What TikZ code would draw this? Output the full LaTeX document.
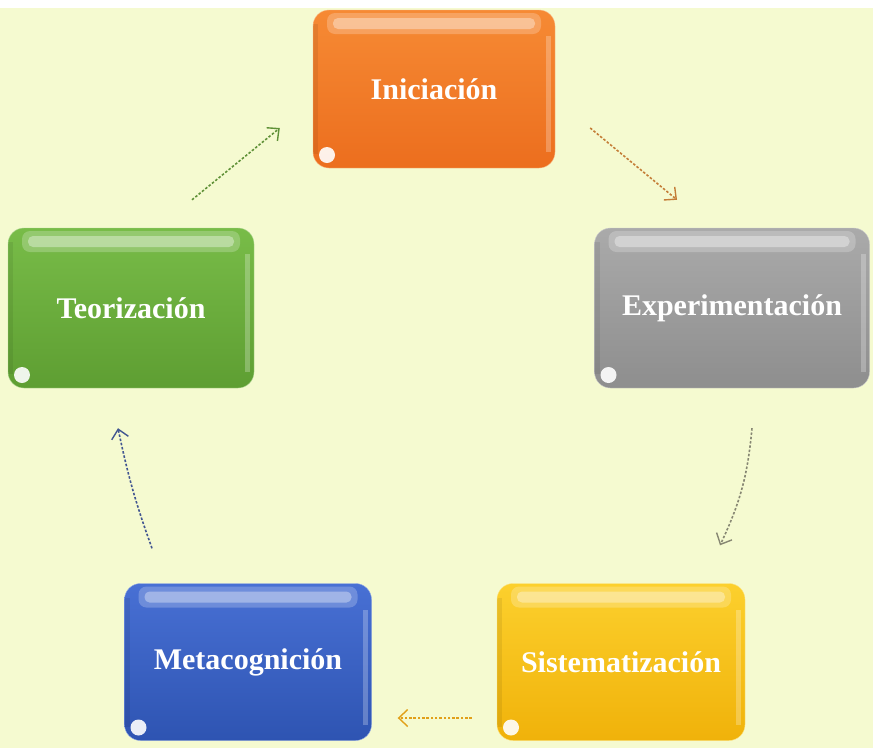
\documentclass[tikz,border=0pt]{standalone}
\usepackage{fontspec}
\setmainfont{Liberation Serif}
\usetikzlibrary{arrows.meta,calc}
\definecolor{bg}{RGB}{245,250,208}
\definecolor{orT}{RGB}{246,138,52}
\definecolor{orB}{RGB}{236,110,30}
\definecolor{grT}{RGB}{170,170,170}
\definecolor{grB}{RGB}{142,142,142}
\definecolor{yeT}{RGB}{252,208,45}
\definecolor{yeB}{RGB}{240,178,10}
\definecolor{blT}{RGB}{72,112,212}
\definecolor{blB}{RGB}{46,84,178}
\definecolor{gnT}{RGB}{120,188,72}
\definecolor{gnB}{RGB}{94,158,50}
\definecolor{aOr}{RGB}{196,125,55}
\definecolor{aGr}{RGB}{135,135,115}
\definecolor{aYe}{RGB}{225,160,25}
\definecolor{aBl}{RGB}{65,85,145}
\definecolor{aGn}{RGB}{95,145,55}
\begin{document}
\begin{tikzpicture}[x=1pt,y=1pt,
  glossy/.style={path picture={
    \coordinate (@nw) at (path picture bounding box.north west);
    \coordinate (@se) at (path picture bounding box.south east);
    \fill[white,opacity=.22,rounded corners=8pt] ($(@nw)+(14pt,-3pt)$) rectangle ($(@se|-@nw)+(-14pt,-24pt)$);
    \fill[white,opacity=.35,rounded corners=5pt] ($(@nw)+(20pt,-8pt)$) rectangle ($(@se|-@nw)+(-20pt,-19pt)$);
    \fill[white,opacity=.25,sharp corners] ($(@se|-@nw)+(-9pt,-26pt)$) rectangle ($(@se)+(-4pt,16pt)$);
    \fill[black,opacity=.07,sharp corners] ($(@nw)+(0pt,-14pt)$) rectangle ($(@nw|-@se)+(5pt,14pt)$);
    \fill[white,opacity=.9] ($(@nw|-@se)+(14pt,13pt)$) circle (8pt);
  }},
  box/.style={rounded corners=16pt, inner sep=0pt, text=white,
    font=\fontsize{30}{34}\selectfont\bfseries, glossy},
  conn/.style={line width=1.6pt, dash pattern=on 2.5pt off 1.8pt,
    -{Straight Barb[length=9pt,width=17pt,line width=1.4pt]}}
]
\useasboundingbox (0,0) rectangle (873,-748);
\fill[white] (0,0) rectangle (873,-748);
\fill[bg] (0,-8) rectangle (873,-748);

\node[box, top color=orT, bottom color=orB, draw=orT!60!white, minimum width=242pt, minimum height=158pt] (ini) at (434,-89) {Iniciación};
\node[box, top color=grT, bottom color=grB, draw=grT!60!white, minimum width=275pt, minimum height=160pt] (exp) at (732,-308) {Experimentación};
\node[box, top color=yeT, bottom color=yeB, draw=yeT!60!white, minimum width=248pt, minimum height=157pt] (sis) at (621,-662) {Sistematización};
\node[box, top color=blT, bottom color=blB, draw=blT!60!white, minimum width=247pt, minimum height=157pt] (met) at (248,-662) {Metacognición};
\node[box, top color=gnT, bottom color=gnB, draw=gnT!60!white, minimum width=246pt, minimum height=160pt] (teo) at (131,-308) {Teorización};

\draw[conn, aGn] ($(teo.north)+(61pt,28pt)$) -- ($(ini.west)+(-33pt,-39pt)$);
\draw[conn, aOr] ($(ini.east)+(35pt,-39pt)$) -- ($(exp.north)+(-55pt,28pt)$);
\draw[conn, aGr] ($(exp.south)+(20pt,-40pt)$) to[bend left=10] ($(sis.north)+(99pt,38pt)$);
\draw[conn, aYe] ($(sis.west)+(-25pt,-56pt)$) -- ($(met.east)+(26pt,-56pt)$);
\draw[conn, aBl] ($(met.north)+(-96pt,35pt)$) to[bend left=4] ($(teo.south)+(-13pt,-40pt)$);
\end{tikzpicture}
\end{document}
